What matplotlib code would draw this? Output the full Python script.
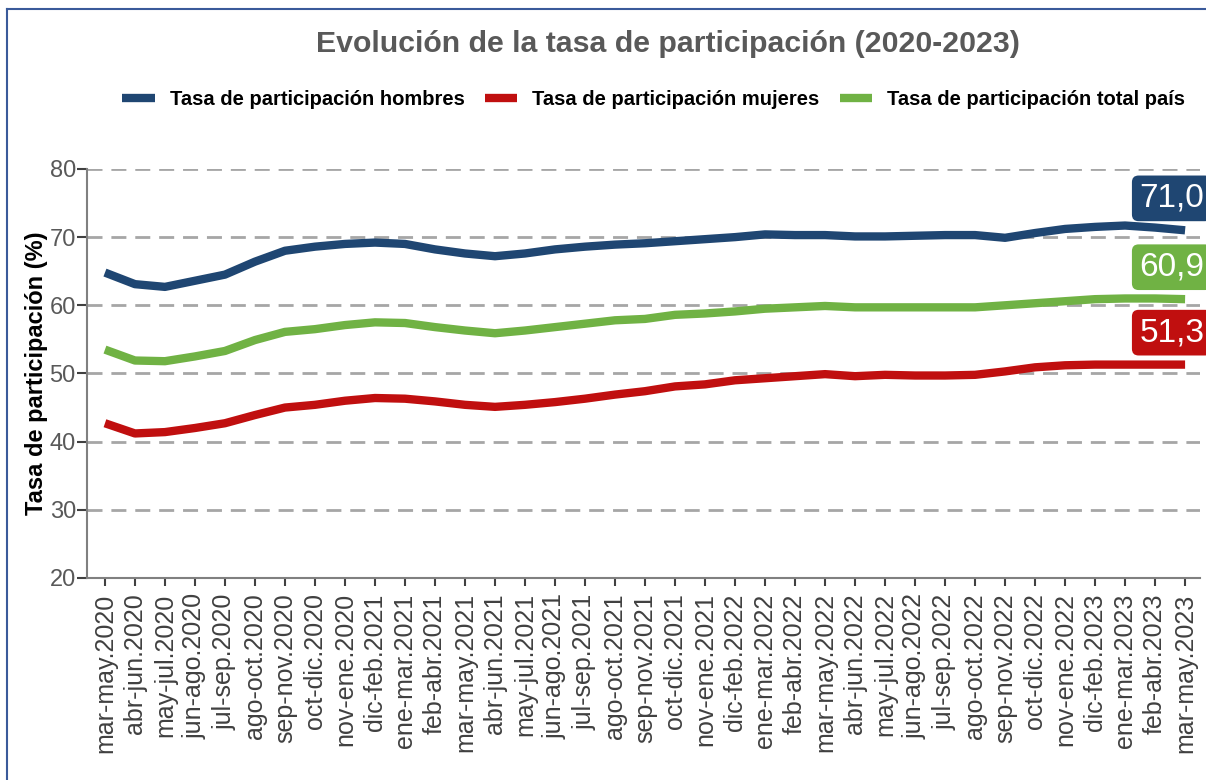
import matplotlib.pyplot as plt
from matplotlib.lines import Line2D

periodos = ["mar-may.2020", "abr-jun.2020", "may-jul.2020", "jun-ago.2020", "jul-sep.2020",
            "ago-oct.2020", "sep-nov.2020", "oct-dic.2020", "nov-ene.2020", "dic-feb.2021",
            "ene-mar.2021", "feb-abr.2021", "mar-may.2021", "abr-jun.2021", "may-jul.2021",
            "jun-ago.2021", "jul-sep.2021", "ago-oct.2021", "sep-nov.2021", "oct-dic.2021",
            "nov-ene.2021", "dic-feb.2022", "ene-mar.2022", "feb-abr.2022", "mar-may.2022",
            "abr-jun.2022", "may-jul.2022", "jun-ago.2022", "jul-sep.2022", "ago-oct.2022",
            "sep-nov.2022", "oct-dic.2022", "nov-ene.2022", "dic-feb.2023", "ene-mar.2023",
            "feb-abr.2023", "mar-may.2023"]

hombres = [64.8, 63.1, 62.7, 63.6, 64.5, 66.4, 68.0, 68.6, 69.0, 69.2,
           69.0, 68.2, 67.6, 67.2, 67.6, 68.2, 68.6, 68.9, 69.1, 69.4,
           69.7, 70.0, 70.4, 70.3, 70.3, 70.1, 70.1, 70.2, 70.3, 70.3,
           69.9, 70.6, 71.2, 71.5, 71.7, 71.4, 71.0]
mujeres = [42.7, 41.2, 41.4, 42.0, 42.7, 43.9, 45.0, 45.4, 46.0, 46.4,
           46.3, 45.9, 45.4, 45.1, 45.4, 45.8, 46.3, 46.9, 47.4, 48.1,
           48.4, 49.0, 49.3, 49.6, 49.9, 49.6, 49.8, 49.7, 49.7, 49.8,
           50.3, 50.9, 51.2, 51.3, 51.3, 51.3, 51.3]
total = [53.5, 51.9, 51.8, 52.5, 53.3, 54.9, 56.1, 56.5, 57.1, 57.5,
         57.4, 56.8, 56.3, 55.9, 56.3, 56.8, 57.3, 57.8, 58.0, 58.6,
         58.8, 59.1, 59.5, 59.7, 59.9, 59.7, 59.7, 59.7, 59.7, 59.7,
         60.0, 60.3, 60.6, 60.9, 61.0, 61.0, 60.9]

series = [
    ("Tasa de participación hombres", hombres, "#1F4672"),
    ("Tasa de participación mujeres", mujeres, "#C00F0F"),
    ("Tasa de participación total país", total, "#70B244"),
]

fuente = "Liberation Sans"
gris = "#808080"

fig = plt.figure(figsize=(12.06, 7.8), dpi=100)
ax = fig.add_axes([0.0721, 0.259, 0.923, 0.5244])

x = list(range(len(periodos)))
for nombre, vals, color in series:
    ax.plot(x, vals, color=color, lw=6, label=nombre, solid_capstyle="butt", zorder=3)

# etiquetas del ultimo valor
for nombre, vals, color in series:
    ax.annotate(f"{vals[-1]:.1f}".replace(".", ","), xy=(x[-1], vals[-1]),
                xytext=(-33, 23), textcoords="offset points",
                color="white", fontsize=24, family=fuente, va="center", ha="left",
                bbox=dict(boxstyle="round,pad=0.22,rounding_size=0.2", fc=color, ec="none"),
                annotation_clip=False, zorder=5)

ax.set_xlim(-0.6, 36.5)
ax.set_ylim(20, 80)
ax.set_yticks(range(20, 81, 10))
ax.set_xticks(x)
ax.set_xticklabels(periodos, rotation=90, fontsize=18, color="#404040", family=fuente)
for lab in ax.get_yticklabels():
    lab.set_family(fuente)
    lab.set_fontsize(17)
    lab.set_color("#595959")

for y in range(30, 81, 10):
    ax.axhline(y, color="#A6A6A6", lw=2, dashes=(5.4, 3.2), zorder=1)

for s in ["top", "right"]:
    ax.spines[s].set_visible(False)
for s in ["left", "bottom"]:
    ax.spines[s].set_color(gris)
    ax.spines[s].set_linewidth(1.5)
ax.tick_params(axis="y", length=7, width=1.5, color="#404040", pad=1)
ax.tick_params(axis="x", length=6, width=1.5, color="#404040", pad=5)

ax.set_ylabel("Tasa de participación (%)", fontsize=17, fontweight="bold",
              family=fuente, labelpad=1)

fig.text(0.554, 0.943, "Evolución de la tasa de participación (2020-2023)",
         ha="center", va="center", fontsize=21.8, fontweight="bold",
         color="#595959", family=fuente)

fig.legend(loc="center", bbox_to_anchor=(0.542, 0.872), ncol=3, frameon=False,
           handlelength=1.6, columnspacing=1.0, handletextpad=0.75,
           prop=dict(family=fuente, weight="bold", size=14.5))

# borde del recuadro
fig.add_artist(Line2D([7 / 1206, 1], [1 - 9 / 780, 1 - 9 / 780], color="#3A5A9A", lw=1.5,
                      transform=fig.transFigure))
fig.add_artist(Line2D([7 / 1206, 7 / 1206], [0, 1 - 9 / 780], color="#3A5A9A", lw=1.5,
                      transform=fig.transFigure))

fig.savefig("out.png", dpi=100)
